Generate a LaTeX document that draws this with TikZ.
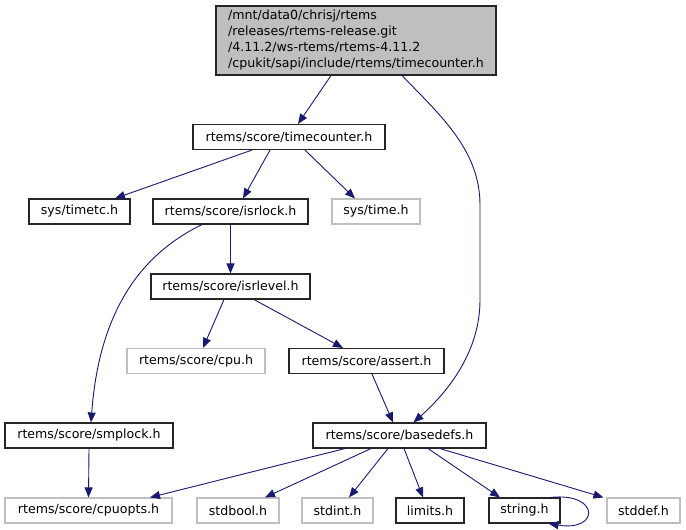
\documentclass[tikz,border=0pt]{standalone}
\usepackage{fontspec}
\setmainfont{DejaVu Sans}
\usetikzlibrary{arrows.meta}
\definecolor{edgeblue}{HTML}{191970}
\definecolor{lightframe}{HTML}{BFBFBF}
\definecolor{topfill}{HTML}{BFBFBF}
\begin{document}
\begin{tikzpicture}[x=1pt,y=1pt,
  hfile/.style={draw=black!85, line width=1.1pt, minimum height=25pt, inner sep=0pt, font=\fontsize{12.6}{15}\selectfont},
  sysfile/.style={draw=lightframe, line width=1.1pt, minimum height=25pt, inner sep=0pt, font=\fontsize{12.6}{15}\selectfont},
  dep/.style={draw=edgeblue, line width=0.9pt, -{Triangle[length=10pt,width=8pt]}}
]
\useasboundingbox (0,0) rectangle (686,-530);
\fill[white] (0,0) rectangle (686,-530);

\node[hfile, fill=topfill, minimum width=280pt, minimum height=69pt, align=left, font=\fontsize{12.6}{16}\selectfont] (top) at (356,-40.5)
  {/mnt/data0/chrisj/rtems\\/releases/rtems-release.git\\/4.11.2/ws-rtems/rtems-4.11.2\\/cpukit/sapi/include/rtems/timecounter.h};

\node[hfile, minimum width=192pt] (tc) at (289,-137) {rtems/score/timecounter.h};
\node[hfile, minimum width=101pt] (timetc) at (79.5,-211.5) {sys/timetc.h};
\node[hfile, minimum width=155pt] (isrlock) at (230.5,-211.5) {rtems/score/isrlock.h};
\node[sysfile, minimum width=88pt] (systime) at (376,-211.5) {sys/time.h};
\node[hfile, minimum width=159pt] (isrlevel) at (230.5,-286.5) {rtems/score/isrlevel.h};
\node[sysfile, minimum width=138pt] (cpu) at (196,-361) {rtems/score/cpu.h};
\node[hfile, minimum width=155pt] (assert) at (366.5,-361) {rtems/score/assert.h};
\node[hfile, minimum width=168pt] (smplock) at (89,-435.5) {rtems/score/smplock.h};
\node[hfile, minimum width=173pt] (basedefs) at (399.5,-435.5) {rtems/score/basedefs.h};
\node[sysfile, minimum width=167pt] (cpuopts) at (88.5,-510.5) {rtems/score/cpuopts.h};
\node[sysfile, minimum width=82pt] (stdbool) at (238,-510.5) {stdbool.h};
\node[sysfile, minimum width=71pt] (stdint) at (337.5,-510.5) {stdint.h};
\node[hfile, minimum width=68pt] (limits) at (430,-510.5) {limits.h};
\node[hfile, minimum width=71pt] (string) at (524.5,-510.5) {string.h};
\node[sysfile, minimum width=73pt] (stddef) at (643.5,-510.5) {stddef.h};

% edges
\draw[dep] ([xshift=-25pt]top.south) -- ([xshift=9pt]tc.north);
\draw[dep] ([xshift=46pt]top.south) .. controls (440,-115) and (480,-150) .. (480,-205)
  -- (480,-300) .. controls (480,-350) and (450,-390) .. ([xshift=14pt]basedefs.north);
\draw[dep] ([xshift=-37pt]tc.south) -- ([xshift=35.5pt]timetc.north);
\draw[dep] ([xshift=-19pt]tc.south) -- ([xshift=12.5pt]isrlock.north);
\draw[dep] ([xshift=16pt]tc.south) -- ([xshift=-21pt]systime.north);
\draw[dep] (isrlock.south) -- (isrlevel.north);
\draw[dep] ([xshift=-28.5pt]isrlock.south) .. controls (150,-250) and (100,-300) .. ([xshift=2pt]smplock.north);
\draw[dep] ([xshift=-6.5pt]isrlevel.south) -- ([xshift=7pt]cpu.north);
\draw[dep] ([xshift=23.5pt]isrlevel.south) -- ([xshift=-23.5pt]assert.north);
\draw[dep] ([xshift=5.5pt]assert.south) -- ([xshift=-6.5pt]basedefs.north);
\draw[dep] (smplock.south) -- (cpuopts.south |- cpuopts.north);
\draw[dep] ([xshift=-54.5pt]basedefs.south) -- ([xshift=61.5pt]cpuopts.north);
\draw[dep] ([xshift=-28.5pt]basedefs.south) -- ([xshift=27pt]stdbool.north);
\draw[dep] ([xshift=-11.5pt]basedefs.south) -- ([xshift=11.5pt]stdint.north);
\draw[dep] ([xshift=4.5pt]basedefs.south) -- ([xshift=-7pt]limits.north);
\draw[dep] ([xshift=28.5pt]basedefs.south) -- ([xshift=-24.5pt]string.north);
\draw[dep] ([xshift=40.5pt]basedefs.south) -- ([xshift=-3pt]stddef.north west);
\draw[dep] ([xshift=-10pt]string.north east) .. controls (600,-492) and (600,-532) .. ([xshift=-12pt]string.south east);
\end{tikzpicture}
\end{document}
